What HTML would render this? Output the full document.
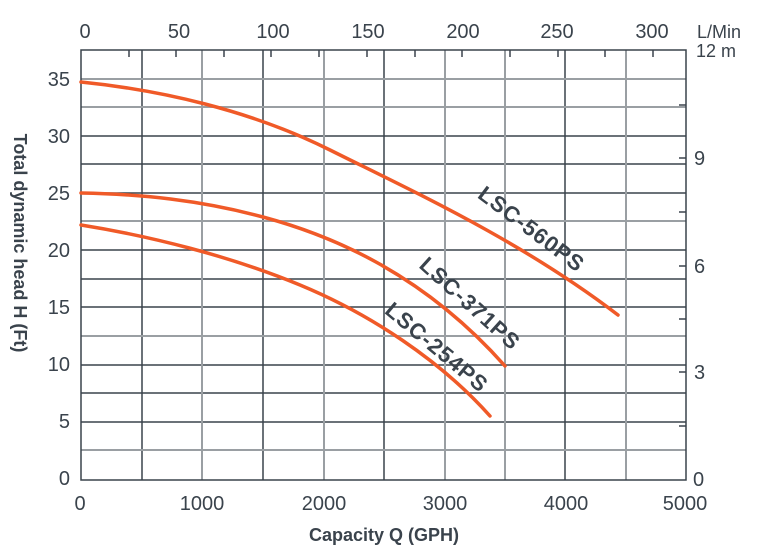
<!DOCTYPE html><html><head><style>body{margin:0;background:#fff}svg{display:block}text{font-family:"Liberation Sans",sans-serif;fill:#3a434c}</style></head><body>
<svg width="757" height="555" viewBox="0 0 757 555" xmlns="http://www.w3.org/2000/svg">
<g stroke-width="1.5">
<g stroke="#3a434c">
<line x1="81" y1="136" x2="686" y2="136"/><line x1="81" y1="193" x2="686" y2="193"/><line x1="81" y1="250" x2="686" y2="250"/><line x1="81" y1="307" x2="686" y2="307"/><line x1="81" y1="365" x2="686" y2="365"/><line x1="81" y1="422" x2="686" y2="422"/>
<line x1="81" y1="164" x2="686" y2="164"/><line x1="81" y1="279" x2="686" y2="279"/><line x1="81" y1="393" x2="686" y2="393"/>
<line x1="142" y1="50" x2="142" y2="480"/><line x1="263" y1="50" x2="263" y2="480"/><line x1="384" y1="50" x2="384" y2="480"/><line x1="565" y1="50" x2="565" y2="480"/>
</g>
<g stroke="#9a9fa3" stroke-width="2">
<line x1="81" y1="79" x2="686" y2="79"/><line x1="81" y1="107" x2="686" y2="107"/><line x1="81" y1="221" x2="686" y2="221"/><line x1="81" y1="336" x2="686" y2="336"/><line x1="81" y1="450" x2="686" y2="450"/>
<line x1="202" y1="50" x2="202" y2="480"/><line x1="324" y1="50" x2="324" y2="480"/><line x1="445" y1="50" x2="445" y2="480"/><line x1="505" y1="50" x2="505" y2="480"/><line x1="626" y1="50" x2="626" y2="480"/>
</g>
<path d="M81 480V50H686V480Z" fill="none" stroke="#3a434c"/>
<g stroke="#3a434c">
<line x1="129" y1="50" x2="129" y2="57"/><line x1="176" y1="50" x2="176" y2="57"/><line x1="224" y1="50" x2="224" y2="57"/><line x1="271" y1="50" x2="271" y2="57"/><line x1="319" y1="50" x2="319" y2="57"/><line x1="367" y1="50" x2="367" y2="57"/><line x1="415" y1="50" x2="415" y2="57"/><line x1="462" y1="50" x2="462" y2="57"/><line x1="510" y1="50" x2="510" y2="57"/><line x1="558" y1="50" x2="558" y2="57"/><line x1="605" y1="50" x2="605" y2="57"/><line x1="653" y1="50" x2="653" y2="57"/>
<line x1="679" y1="158" x2="686" y2="158"/><line x1="679" y1="266" x2="686" y2="266"/><line x1="679" y1="372" x2="686" y2="372"/><line x1="679" y1="426" x2="686" y2="426"/><line x1="679" y1="319" x2="686" y2="319"/><line x1="679" y1="212" x2="686" y2="212"/><line x1="679" y1="105" x2="686" y2="105"/>
</g>
</g>
<g fill="none" stroke="#f05a28" stroke-width="3.5" stroke-linecap="round">
<path d="M81 82 C160 90 250 110 330 150 S520 240 618 315"/>
<path d="M81 193 C140 194 200 200 263 217 S420 270 505 366"/>
<path d="M81 225 C150 236 230 256 300 285 S440 360 490 416"/>
</g>
<g font-size="20" text-anchor="middle">
<text x="85" y="38">0</text><text x="179" y="38">50</text><text x="273" y="38">100</text><text x="368" y="38">150</text><text x="463" y="38">200</text><text x="557" y="38">250</text><text x="652" y="38">300</text>
<text x="80" y="510">0</text><text x="202" y="510">1000</text><text x="324" y="510">2000</text><text x="445" y="510">3000</text><text x="566" y="510">4000</text><text x="685" y="510">5000</text>
</g>
<text x="697" y="38" font-size="18">L/Min</text><text x="696" y="57" font-size="18">12 m</text>
<g font-size="20" text-anchor="start"><text x="694" y="165">9</text><text x="694" y="273">6</text><text x="694" y="379">3</text><text x="693" y="486">0</text></g>
<g font-size="20" text-anchor="end"><text x="70" y="86">35</text><text x="70" y="143">30</text><text x="70" y="200">25</text><text x="70" y="257">20</text><text x="70" y="314">15</text><text x="70" y="371">10</text><text x="70" y="428">5</text><text x="70" y="485">0</text></g>
<text x="384" y="541" font-size="18" font-weight="bold" text-anchor="middle">Capacity Q (GPH)</text>
<text transform="translate(14,243) rotate(90)" font-size="18" font-weight="bold" text-anchor="middle">Total dynamic head H (Ft)</text>
<g font-size="22" font-weight="bold" text-anchor="middle" letter-spacing="1">
<text transform="translate(527,235) rotate(37)">LSC-560PS</text>
<text transform="translate(465,309) rotate(42)">LSC-371PS</text>
<text transform="translate(432,353) rotate(40)">LSC-254PS</text>
</g>
</svg></body></html>
